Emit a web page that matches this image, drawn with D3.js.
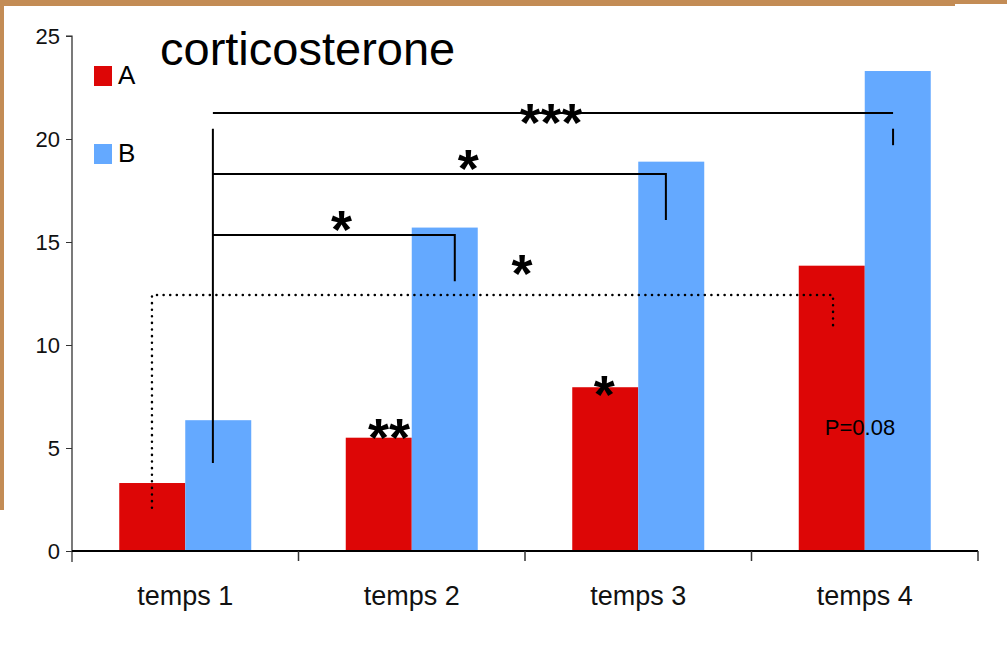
<!DOCTYPE html>
<html>
<head>
<meta charset="utf-8">
<script src="https://cdn.jsdelivr.net/npm/d3@7/dist/d3.min.js"></script>
<style>
  body { margin: 0; background: #fff; }
  svg { display: block; font-family: "Liberation Sans", Arial, sans-serif; }
</style>
</head>
<body>
<div id="chart"></div>
<script>
'use strict';

var categories = ['temps 1', 'temps 2', 'temps 3', 'temps 4'];
var seriesNames = ['A', 'B'];
var valuesA = [3.3, 5.5, 7.95, 13.85];
var valuesB = [6.35, 15.7, 18.9, 23.3];
var yTicks = [0, 5, 10, 15, 20, 25];
var colors = ['#dd0606', '#64a9ff'];

// brackets: x in category units (0..4), y in data units
var solidBrackets = [
  { pts: [[0.622, 4.27], [0.622, 20.5]] },
  { pts: [[0.622, 21.26], [3.625, 21.26]] },
  { pts: [[3.625, 20.5], [3.625, 19.7]] },
  { pts: [[0.622, 18.3], [2.622, 18.3], [2.622, 16.07]] },
  { pts: [[0.622, 15.34], [1.69, 15.34], [1.69, 13.1]] }
];
var dottedBracket = [[0.353, 2.1], [0.353, 12.43], [3.36, 12.43], [3.36, 10.9]];
// star labels, positioned by their visual centre
var stars = [
  { text: '***', x: 2.115, y: 21.07 },
  { text: '*', x: 1.75, y: 18.83 },
  { text: '*', x: 1.19, y: 15.87 },
  { text: '*', x: 1.987, y: 13.74 },
  { text: '**', x: 1.4, y: 5.78 },
  { text: '*', x: 2.35, y: 7.86 }
];
var pNote = { text: 'P=0.08', x: 3.479, y: 6 };

var width = 1007;
var height = 653;
var mLeft = 72, mRight = 978, mTop = 36, mBottom = 551;

var svg = d3.select('#chart').append('svg')
  .attr('width', width)
  .attr('height', height);

// cork border bits
var cork = '#c38c55';
svg.append('rect').attr('x', 0).attr('y', 0).attr('width', 955).attr('height', 6).attr('fill', cork);
svg.append('rect').attr('x', 955).attr('y', 0).attr('width', 52).attr('height', 4).attr('fill', cork);
svg.append('rect').attr('x', 0).attr('y', 0).attr('width', 4).attr('height', 510).attr('fill', cork);

var x0 = d3.scaleBand().domain(categories).range([mLeft, mRight]).paddingInner(0).paddingOuter(0);
var x1 = d3.scaleBand().domain(seriesNames).range([0, x0.bandwidth()]).paddingInner(0).paddingOuter(0.716);
var xu = d3.scaleLinear().domain([0, 4]).range([mLeft, mRight]);
var y = d3.scaleLinear().domain([0, 25]).range([mBottom, mTop]);

var rows = categories.map(function (c, i) {
  return { cat: c, vals: [valuesA[i], valuesB[i]] };
});

var groups = svg.selectAll('g.cat').data(rows).enter().append('g')
  .attr('class', 'cat')
  .attr('transform', function (d) { return 'translate(' + x0(d.cat) + ',0)'; });

groups.selectAll('rect').data(function (d) {
  return d.vals.map(function (v, j) { return { s: seriesNames[j], v: v, j: j }; });
}).enter().append('rect')
  .attr('x', function (d) { return x1(d.s); })
  .attr('y', function (d) { return y(d.v); })
  .attr('width', x1.bandwidth())
  .attr('height', function (d) { return mBottom - y(d.v); })
  .attr('fill', function (d) { return colors[d.j]; });

// y axis
var yAxis = svg.append('g').attr('transform', 'translate(' + mLeft + ',0)')
  .call(d3.axisLeft(y).tickValues(yTicks).tickSize(6).tickPadding(6));
yAxis.select('.domain').attr('d', 'M-6,' + mTop + 'H0V' + (mBottom + 11));
yAxis.selectAll('text').attr('font-size', 22).attr('fill', '#111').attr('font-family', 'Liberation Sans, Arial, sans-serif');
yAxis.selectAll('line').attr('stroke', '#333');
yAxis.select('.domain').attr('stroke', '#222').attr('stroke-width', 1.2);

// x axis
var xAxis = svg.append('g').attr('transform', 'translate(0,' + mBottom + ')')
  .call(d3.axisBottom(x0).tickSize(0).tickPadding(35));
xAxis.select('.domain').attr('d', 'M' + mLeft + ',0H' + mRight).attr('stroke', '#000').attr('stroke-width', 2);
xAxis.selectAll('text').attr('font-size', 27).attr('fill', '#111').attr('font-family', 'Liberation Sans, Arial, sans-serif');
xAxis.selectAll('line.sep').data(d3.range(1, 5)).enter().append('line')
  .attr('class', 'sep')
  .attr('x1', function (d) { return xu(d); })
  .attr('x2', function (d) { return xu(d); })
  .attr('y1', 0).attr('y2', 10)
  .attr('stroke', '#333').attr('stroke-width', 1.5);

// brackets
var line = d3.line()
  .x(function (p) { return xu(p[0]); })
  .y(function (p) { return y(p[1]); });

svg.selectAll('path.bracket').data(solidBrackets).enter().append('path')
  .attr('class', 'bracket')
  .attr('d', function (d) { return line(d.pts); })
  .attr('fill', 'none')
  .attr('stroke', '#000')
  .attr('stroke-width', 2);

svg.append('path')
  .attr('d', line(dottedBracket))
  .attr('fill', 'none')
  .attr('stroke', '#000')
  .attr('stroke-width', 2.5)
  .attr('stroke-linecap', 'round')
  .attr('stroke-dasharray', '0.1 6.5');

// stars
var starSize = 54;
svg.selectAll('text.star').data(stars).enter().append('text')
  .attr('class', 'star')
  .attr('x', function (d) { return xu(d.x); })
  .attr('y', function (d) { return y(d.y) + starSize * 0.45; })
  .attr('text-anchor', 'middle')
  .attr('font-size', starSize)
  .attr('font-weight', 'bold')
  .attr('fill', '#000')
  .text(function (d) { return d.text; });

svg.append('text')
  .attr('x', xu(pNote.x))
  .attr('y', y(pNote.y) + 8)
  .attr('text-anchor', 'middle')
  .attr('font-size', 22)
  .attr('fill', '#000')
  .text(pNote.text);

// title
svg.append('text')
  .attr('x', 160).attr('y', 65)
  .attr('font-size', 47)
  .attr('fill', '#000')
  .text('corticosterone');

// legend
var legend = svg.selectAll('g.leg').data(seriesNames).enter().append('g')
  .attr('class', 'leg')
  .attr('transform', function (d, i) { return 'translate(94,' + (66 + i * 78) + ')'; });
legend.append('rect').attr('width', 18).attr('height', 20)
  .attr('fill', function (d, i) { return colors[i]; });
legend.append('text').attr('x', 24).attr('y', 18)
  .attr('font-size', 26).attr('fill', '#000')
  .text(function (d) { return d; });
</script>
</body>
</html>
